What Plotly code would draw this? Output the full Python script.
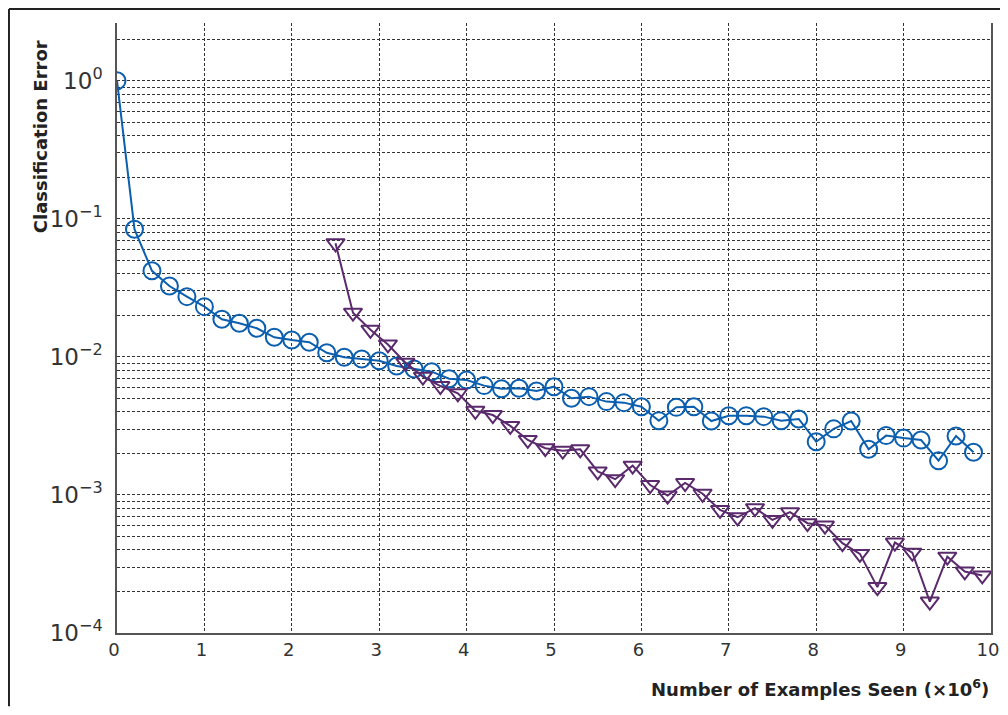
import plotly.graph_objects as go

# ---- data ----
circle_x = [round(0.2 * i, 1) for i in range(50)]
circle_y = [1.0, 0.084, 0.042, 0.0326, 0.0273, 0.0231, 0.0187, 0.0175, 0.0161, 0.01386,
            0.01325, 0.01276, 0.0107, 0.00993, 0.00966, 0.00938, 0.00859, 0.00817, 0.00781, 0.00695,
            0.0068, 0.00619, 0.00588, 0.00592, 0.00566, 0.00608, 0.00501, 0.00515, 0.00474, 0.00466,
            0.00435, 0.00345, 0.00431, 0.00435, 0.00343, 0.00375, 0.00375, 0.00369, 0.00345, 0.00355,
            0.00243, 0.00301, 0.00343, 0.00214, 0.00269, 0.00258, 0.0025, 0.00177, 0.00267, 0.00204]

tri_x = [round(2.5 + 0.2 * i, 1) for i in range(38)]
tri_y = [0.0665, 0.0209, 0.0157, 0.0123, 0.00908, 0.00719, 0.00615, 0.00545, 0.00407, 0.00379,
         0.00316, 0.0025, 0.00218, 0.00209, 0.00214, 0.00148, 0.0013, 0.00163, 0.00118, 0.000989,
         0.00122, 0.00102, 0.000778, 0.000689, 0.000801, 0.000659, 0.00075, 0.000624, 0.0006, 0.000447,
         0.000374, 0.000215, 0.000452, 0.000382, 0.000169, 0.000357, 0.000279, 0.000261]

x_ticks = list(range(0, 11))
y_tick_vals = [1e-4, 1e-3, 1e-2, 1e-1, 1e0]
y_tick_text = ["10<sup>\u22124</sup>", "10<sup>\u22123</sup>", "10<sup>\u22122</sup>",
               "10<sup>\u22121</sup>", "10<sup>0</sup>"]
y_minor_vals = [m * 10 ** e for e in range(-4, 1) for m in range(2, 10)]

BLUE = "#0b5fae"
PURPLE = "#5a2a6c"
GRID = "#333333"
FONT = "DejaVu Sans"

fig = go.Figure()
fig.add_trace(go.Scatter(
    x=circle_x, y=circle_y, mode="lines+markers",
    line=dict(color=BLUE, width=2),
    marker=dict(symbol="circle-open", size=17, color=BLUE, line=dict(width=2, color=BLUE)),
    showlegend=False))
fig.add_trace(go.Scatter(
    x=tri_x, y=tri_y, mode="lines+markers",
    line=dict(color=PURPLE, width=2),
    marker=dict(symbol="triangle-down-open", size=16, color=PURPLE, line=dict(width=2, color=PURPLE)),
    showlegend=False))

fig.update_layout(
    width=992, height=699,
    margin=dict(l=109, r=9, t=15, b=74),
    paper_bgcolor="white", plot_bgcolor="white",
    font=dict(family=FONT, color="#222222"),
    xaxis=dict(
        range=[0, 10], tickvals=x_ticks, ticktext=[str(v) for v in x_ticks],
        showgrid=True, gridcolor=GRID, gridwidth=1, griddash="3px,2px",
        showline=True, linecolor="#555555", linewidth=1.5, mirror=False,
        ticks="", zeroline=False, ticklabeloverflow="allow", automargin=False,
        ticklabelshift=-3,
        tickfont=dict(size=18, color="#333333"),
    ),
    yaxis=dict(
        type="log", range=[-4, 0.418],
        tickvals=y_tick_vals, ticktext=y_tick_text,
        showgrid=True, gridcolor=GRID, gridwidth=1, griddash="3px,2px",
        minor=dict(tickvals=y_minor_vals, showgrid=True, gridcolor=GRID, gridwidth=1,
                   griddash="3px,2px", ticks=""),
        showline=True, linecolor="#555555", linewidth=1.5, mirror=True,
        ticks="", zeroline=False, ticklabelstandoff=8, automargin=False,
        tickfont=dict(size=23, color="#333333"),
    ),
    annotations=[
        dict(text="<b>Classification Error</b>", xref="paper", yref="paper",
             x=-0.088, y=0.813, textangle=-90, showarrow=False,
             font=dict(size=18, family=FONT, color="#222222"), xanchor="center", yanchor="middle"),
        dict(text="<b>Number of Examples Seen (\u00d710<sup>6</sup>)</b>", xref="paper", yref="paper",
             x=1.0, y=-0.090, showarrow=False,
             font=dict(size=18, family=FONT, color="#222222"), xanchor="right", yanchor="middle"),
    ],
    shapes=[
        dict(type="line", xref="paper", yref="paper", x0=-0.1236, x1=1.0103, y0=1.0230, y1=1.0230,
             line=dict(color="#222222", width=2)),
        dict(type="line", xref="paper", yref="paper", x0=-0.1236, x1=-0.1236, y0=1.0230, y1=-0.12,
             line=dict(color="#222222", width=2)),
    ],
)

fig.write_html("out.html")
